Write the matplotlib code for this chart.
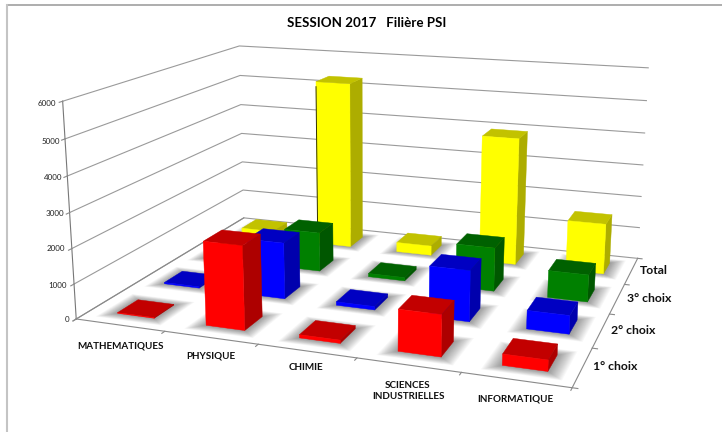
import numpy as np
import matplotlib
matplotlib.use("Agg")
import matplotlib.pyplot as plt
from mpl_toolkits.mplot3d.art3d import Poly3DCollection

# Data
matieres = ["MATHEMATIQUES", "PHYSIQUE", "CHIMIE", "SCIENCES\nINDUSTRIELLES", "INFORMATIQUE"]
choix = ["1° choix", "2° choix", "3° choix", "Total"]
choix1 = [20, 2350, 90, 1130, 300]
choix2 = [40, 1650, 100, 1450, 520]
choix3 = [170, 1200, 100, 1300, 800]
total = [230, 5300, 300, 3950, 1550]
graduations = [0, 1000, 2000, 3000, 4000, 5000, 6000]
series = [choix1, choix2, choix3, total]

couleurs = [(1, 0, 0), (0, 0, 1), (0, 0.5, 0), (1, 1, 0)]

W, H = 722, 432
plt.rcParams['font.family'] = ['Lato', 'DejaVu Sans']

fig = plt.figure(figsize=(W / 100, H / 100), dpi=100)
# square axes as wide as the figure, so nothing gets clipped
ax = fig.add_axes([0, (H - W) / 2 / H, 1, W / H], projection='3d')
ax.set_axis_off()
ax.computed_zorder = False
ax.apply_aspect()

# Camera: projective matrix fitted on the corners of the chart box (pixels)
box_3d = [(0, 0, 0), (5, 0, 0), (5, 4, 0), (0, 4, 0), (0, 0, 6000), (0, 4, 6000), (5, 4, 6000)]
box_px = [(77, 319), (572, 388), (638, 258), (243, 218), (62, 101), (240, 46), (648, 68)]


def fit_camera():
    inv = ax.transData.inverted()
    A, b = [], []
    for (x, y, z), (px, py) in zip(box_3d, box_px):
        u, v = inv.transform((px, H - py))
        x, y, z = x / 5, y / 4, z / 6000
        A.append([x, y, z, 1, 0, 0, 0, 0, -u * x, -u * y, -u * z])
        A.append([0, 0, 0, 0, x, y, z, 1, -v * x, -v * y, -v * z])
        b += [u, v]
    p = np.linalg.lstsq(np.array(A), np.array(b), rcond=None)[0]
    s = np.array([1 / 5, 1 / 4, 1 / 6000, 1])
    return np.array([p[:4] * s,
                     p[4:8] * s,
                     [0, 0, 0, -1],
                     np.append(p[8:], 1) * s])


M = fit_camera()
ax.get_proj = lambda: M


def ligne(xs, ys, zs, couleur='#9a9a9a', lw=0.8):
    ax.plot(xs, ys, zs, color=couleur, lw=lw, zorder=1)


# Walls and floor
for g in graduations:
    ligne([0, 0, 5], [0, 4, 4], [g, g, g])
ligne([0, 0], [0, 0], [0, 6000], '#777777')
ligne([0, 5, 5], [0, 0, 4], [0, 0, 0], '#8a8a8a')
ligne([0, 0], [0, 4], [0, 0], '#8a8a8a')
for i in range(6):
    ligne([i, i], [0, -0.06], [0, 0], '#8a8a8a')
for j in range(5):
    ligne([5, 5.05], [j, j], [0, 0], '#8a8a8a')
for g in graduations:
    ligne([0, 0], [0, -0.06], [g, g], '#8a8a8a')

larg = 0.42
prof = 0.42
decal = 0.015

# Soft shadows on the floor
for j in range(4):
    for i in range(5):
        x0 = i + 0.5 + decal - larg / 2
        y0 = j + 0.5 - prof / 2
        for e in np.linspace(0.16, 0.0, 17):
            sol = [[(x0 - e, y0 - e, 0), (x0 + larg + e, y0 - e, 0),
                    (x0 + larg + e, y0 + prof + e, 0), (x0 - e, y0 + prof + e, 0)]]
            ombre = Poly3DCollection(sol, facecolors=(0, 0, 0, 0.026), edgecolors='none', zorder=2)
            ax.add_collection3d(ombre)

# Bars, from the back row to the front one
n = 10
for j in range(3, -1, -1):
    for i in range(5):
        h = series[j][i]
        c = np.array(couleurs[j])
        x0, x1 = i + 0.5 + decal - larg / 2, i + 0.5 + decal + larg / 2
        y0, y1 = j + 0.5 - prof / 2, j + 0.5 + prof / 2
        faces = [[(x0, y0, 0), (x1, y0, 0), (x1, y0, h), (x0, y0, h)],
                 [(x1, y0, 0), (x1, y1, 0), (x1, y1, h), (x1, y0, h)],
                 [(x0, y0, h), (x1, y0, h), (x1, y1, h), (x0, y1, h)]]
        teintes = [c, c * 0.68, c * 0.76]
        barre = Poly3DCollection(faces, facecolors=teintes, edgecolors=teintes,
                                 linewidths=0.3, zorder=n)
        ax.add_collection3d(barre)
        n += 1
        # the tall yellow bar has a dark left edge in the original
        if j == 3 and i == 1:
            ax.plot([x0, x0], [y0, y0], [0, h * 0.97], color='#333300', lw=0.7, zorder=n)
            n += 1

ax.set_xlim(0, 5)
ax.set_ylim(0, 4)
ax.set_zlim(0, 6000)


def texte(x, y, s, **kw):
    fig.text(x / W, 1 - y / H, s, va='center', **kw)


texte(367, 23, "SESSION 2017   Filière PSI", ha='center', fontsize=9.6, fontweight='bold')

pos_matieres = [(120, 346), (211, 356), (306, 368), (408, 391), (515, 399)]
for m, (x, y) in zip(matieres, pos_matieres):
    texte(x, y, m, ha='center', fontsize=7.1, fontweight='bold', color='#111111', linespacing=1.25)

pos_choix = [(593, 366), (611, 330), (627, 299), (640, 270)]
for c, (x, y) in zip(choix, pos_choix):
    texte(x, y, c, ha='left', fontsize=8.8, fontweight='bold', color='#111111')

pos_grad = [319, 285, 249, 214, 178, 141, 104]
pos_grad_x = [69, 67, 65, 64, 62, 60, 56]
for g, x, y in zip(graduations, pos_grad_x, pos_grad):
    texte(x, y, str(g), ha='right', fontsize=5.8, color='#222222')

# Frame of the original slide
fig.add_artist(plt.Line2D([7 / W, 1], [1 - 5 / H, 1 - 5 / H], color='#a0a0a0', lw=1.2))
fig.add_artist(plt.Line2D([7 / W, 7 / W], [0, 1 - 5 / H], color='#c4c4c4', lw=1.5))

fig.savefig("out.png", dpi=100)
